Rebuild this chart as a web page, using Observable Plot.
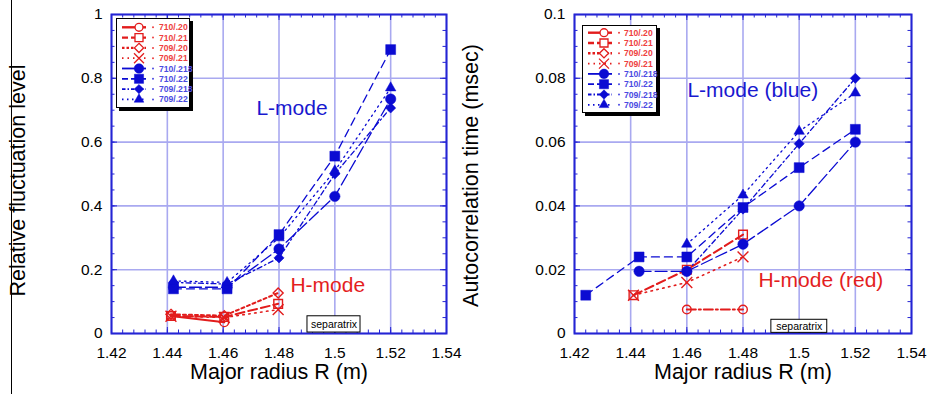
<!DOCTYPE html>
<html><head><meta charset="utf-8">
<script src="https://cdn.jsdelivr.net/npm/d3@7"></script>
<script src="https://cdn.jsdelivr.net/npm/@observablehq/plot@0.6"></script>
<style>
body{margin:0;background:#fff;font-family:"Liberation Sans",Arial,sans-serif;}
#wrap{position:relative;width:930px;height:394px;overflow:hidden;background:#fff;}
.panel{position:absolute;top:0;}
.legend{position:absolute;box-sizing:border-box;background:#fff;border:1.5px solid #000;box-shadow:3px 3px 0 #000;}
.legend svg{position:absolute;left:-1.5px;top:-1.5px;overflow:visible;}
.vline{position:absolute;left:11px;top:0;width:1.2px;height:394px;background:#000;}
</style></head><body><div id="wrap"><div class="vline"></div></div>
<script>
// ---------- data ----------
const seriesNames = ["710/.20","710/.21","709/.20","709/.21","710/.218","710/.22","709/.218","709/.22"];
const xTickValues = [1.42,1.44,1.46,1.48,1.5,1.52,1.54];
const fluctTickValues = [0,0.2,0.4,0.6,0.8,1];
const autoTickValues = [0,0.02,0.04,0.06,0.08,0.1];

// Left panel: relative fluctuation level
const fluctR_H = [1.4413, 1.4604, 1.4797];
const fluct_710_20 = [0.055, 0.035, null];
const fluct_710_21 = [0.055, 0.052, 0.093];
const fluct_709_20 = [0.060, 0.056, 0.127];
const fluct_709_21 = [0.054, 0.050, 0.075];
const fluctR_L = [1.4422, 1.4614, 1.48, 1.5, 1.52];
const fluct_710_218 = [0.145, 0.145, 0.265, 0.43, 0.735];
const fluct_710_22  = [0.140, 0.140, 0.310, 0.556, 0.89];
const fluct_709_218 = [0.160, 0.155, 0.237, 0.50, 0.707];
const fluct_709_22  = [0.165, 0.160, 0.300, 0.51, 0.77];

// Right panel: autocorrelation time (msec)
const autoR_H = [1.441, 1.46, 1.48];
const auto_710_20 = [null, 0.0075, 0.0075];
const auto_710_21 = [0.012, 0.020, 0.031];
const auto_709_20 = [null, null, null];
const auto_709_21 = [0.012, 0.016, 0.024];
const autoR_L = [1.424, 1.443, 1.46, 1.48, 1.5, 1.52];
const auto_710_218 = [null, 0.0195, 0.0195, 0.028, 0.040, 0.060];
const auto_710_22  = [0.012, 0.024, 0.024, 0.0395, 0.052, 0.064];
const auto_709_218 = [null, null, 0.0195, 0.039, 0.0595, 0.080];
const auto_709_22  = [null, null, 0.028, 0.0434, 0.0634, 0.0754];

// annotations
const fluctNotes = [{text:"L-mode", x:1.4719, y:0.705, mode:"L"}, {text:"H-mode", x:1.4841, y:0.150, mode:"H"}];
const autoNotes = [{text:"L-mode (blue)", x:1.4602, y:0.0762, mode:"L"}, {text:"H-mode (red)", x:1.4855, y:0.0166, mode:"H"}];
const fluctSeparatrix = [{x1:1.4902, x2:1.5092, y1:0.003, y2:0.054}];
const autoSeparatrix = [{x1:1.4901, x2:1.5100, y1:0.0002, y2:0.0043}];

// ---------- styles ----------
const RED = "#e21c1c", BLUE = "#0b0bd2", GRID = "#a9a9f0", AXIS = "#2424d4";
const style = {
  "710/.20":  {c:RED,  sym:"circle",   r:4.3, fill:false, dash:null,        lDash:null,          w:2,   lw:2.4},
  "710/.21":  {c:RED,  sym:"square",   r:4.9, fill:false, dash:"9,4",       lDash:"6,3",         w:2,   lw:2.4},
  "709/.20":  {c:RED,  sym:"diamond2", r:4.5, fill:false, dash:"3,3",       lDash:"2.5,2",       w:2,   lw:2.4},
  "709/.21":  {c:RED,  sym:"times",    r:5.0, fill:false, dash:"1.5,4.5",   lDash:"1.5,4",       w:1.6, lw:1.8},
  "710/.218": {c:BLUE, sym:"circle",   r:5.2, fill:true,  dash:"12,4",      lDash:null,          w:1.3, lw:1.8},
  "710/.22":  {c:BLUE, sym:"square",   r:5.6, fill:true,  dash:"8,5",       lDash:"6,3",         w:1.3, lw:1.8},
  "709/.218": {c:BLUE, sym:"diamond2", r:4.6, fill:true,  dash:"5,3,1.5,3", lDash:"3.5,2,1.5,2", w:1.3, lw:1.8},
  "709/.22":  {c:BLUE, sym:"triangle", r:3.9, fill:true,  dash:"1.5,4",     lDash:"1.5,3.5",     w:1.3, lw:1.8}
};
const autoDashOverride = {"710/.20": "9,3,2,3"};
const d3sym = {circle:d3.symbolCircle, square:d3.symbolSquare, diamond2:d3.symbolDiamond2, times:d3.symbolTimes, triangle:d3.symbolTriangle};
const fmt = d => String(+d.toFixed(3));
const FONT = "Liberation Sans, Arial, sans-serif";

function buildRows(hX, hVals, lX, lVals) {
  const rows = [];
  seriesNames.forEach((name, i) => {
    const xs = i < 4 ? hX : lX;
    const vals = i < 4 ? hVals[i] : lVals[i - 4];
    xs.forEach((x, j) => { if (vals[j] != null) rows.push({series: name, x, y: vals[j]}); });
  });
  return rows;
}

function panel({rows, yDomain, yTicks, yMinor, yTitle, notes, sep, marginLeft, titleDx, titleDy, dashOverride = {}}) {
  const W = 465, H = 394, mt = 14, mb = 61, mr = 19;
  const fw = W - marginLeft - mr, fh = H - mt - mb;
  const xMinor = d3.range(0, 31).map(i => +(1.42 + i * 0.004).toFixed(4));
  const marks = [
    Plot.gridX(xTickValues, {stroke: GRID, strokeOpacity: 1, strokeWidth: 1.6}),
    Plot.gridY(yTicks, {stroke: GRID, strokeOpacity: 1, strokeWidth: 1.6}),
    Plot.ruleX(xMinor, {x: d => d, insetTop: fh - 3.5, stroke: AXIS}),
    Plot.ruleX(xMinor, {x: d => d, insetBottom: fh - 3.5, stroke: AXIS}),
    Plot.ruleX(xTickValues, {x: d => d, insetTop: fh - 6, stroke: AXIS}),
    Plot.ruleX(xTickValues, {x: d => d, insetBottom: fh - 6, stroke: AXIS}),
    Plot.ruleY(yMinor, {y: d => d, insetRight: fw - 3.5, stroke: AXIS}),
    Plot.ruleY(yMinor, {y: d => d, insetLeft: fw - 3.5, stroke: AXIS}),
    Plot.ruleY(yTicks, {y: d => d, insetRight: fw - 6, stroke: AXIS}),
    Plot.ruleY(yTicks, {y: d => d, insetLeft: fw - 6, stroke: AXIS}),
    Plot.frame({stroke: AXIS, strokeWidth: 2}),
    Plot.rect(sep, {x1: "x1", x2: "x2", y1: "y1", y2: "y2", fill: "#fff", stroke: "#000", strokeWidth: 1}),
    Plot.text(sep, {x: d => (d.x1 + d.x2) / 2, y: d => (d.y1 + d.y2) / 2, text: () => "separatrix", fontSize: 10.5, fill: "#000"})
  ];
  for (const name of seriesNames) {
    const s = style[name];
    const data = rows.filter(r => r.series === name);
    if (!data.length) continue;
    const dash = name in dashOverride ? dashOverride[name] : s.dash;
    marks.push(Plot.line(data, {x: "x", y: "y", stroke: s.c, strokeWidth: s.w, strokeDasharray: dash || undefined}));
  }
  for (const name of seriesNames) {
    const s = style[name];
    const data = rows.filter(r => r.series === name);
    if (!data.length) continue;
    marks.push(Plot.dot(data, {x: "x", y: "y", symbol: s.sym, r: s.r,
      fill: s.fill ? s.c : "none", stroke: s.c, strokeWidth: s.fill ? 0.5 : 1.4}));
  }
  for (const n of notes) {
    marks.push(Plot.text([n], {x: "x", y: "y", text: "text", textAnchor: "start", fontSize: 21,
      fill: n.mode === "L" ? "#1818cf" : "#e41e1e"}));
  }
  marks.push(
    Plot.axisX(xTickValues, {tickSize: 0, tickPadding: 13, tickFormat: fmt, fontSize: 15.5, label: null}),
    Plot.axisY(yTicks, {tickSize: 0, tickPadding: 9, tickFormat: fmt, fontSize: 15.5, label: null}),
    Plot.text(["Major radius R (m)"], {frameAnchor: "bottom", dy: 45, fontSize: 21.5, fill: "#000"}),
    Plot.text([yTitle], {frameAnchor: "left", textAnchor: "middle", rotate: -90, dx: titleDx, dy: titleDy, fontSize: 21.5, fill: "#000"})
  );
  return Plot.plot({
    width: W, height: H, marginLeft, marginRight: mr, marginTop: mt, marginBottom: mb,
    x: {domain: [1.42, 1.54], label: null},
    y: {domain: yDomain, label: null},
    style: {fontFamily: FONT, color: "#000", background: "transparent", overflow: "visible"},
    marks
  });
}

function legend(left, top, width, height, rowTop, lx0, lx1, mx, dx, tx) {
  const div = document.createElement("div");
  div.className = "legend";
  Object.assign(div.style, {left: left + "px", top: top + "px", width: width + "px", height: height + "px"});
  const svg = d3.select(div).append("svg").attr("width", width).attr("height", height);
  seriesNames.forEach((name, i) => {
    const s = style[name];
    const y = rowTop + i * 10.3;
    const g = svg.append("g");
    g.append("line").attr("x1", lx0).attr("x2", lx1).attr("y1", y).attr("y2", y)
      .attr("stroke", s.c).attr("stroke-width", s.lw).attr("stroke-dasharray", s.lDash);
    g.append("path").attr("transform", `translate(${mx},${y})`)
      .attr("d", d3.symbol(d3sym[s.sym], Math.PI * s.r * s.r * 0.85)())
      .attr("fill", s.fill ? s.c : "#fff").attr("stroke", s.c).attr("stroke-width", s.fill ? 0.5 : 1.3);
    g.append("circle").attr("cx", dx).attr("cy", y).attr("r", 1).attr("fill", s.c === RED ? "#ee4040" : "#4a4ae2");
    g.append("text").attr("x", tx).attr("y", y).attr("dy", "0.36em").text(name)
      .attr("font-size", 8.6).attr("font-weight", "bold").attr("font-family", FONT)
      .attr("fill", s.c === RED ? "#ee4040" : "#4a4ae2");
  });
  document.getElementById("wrap").appendChild(div);
}

const wrap = document.getElementById("wrap");
const leftRows = buildRows(fluctR_H, [fluct_710_20, fluct_710_21, fluct_709_20, fluct_709_21],
  fluctR_L, [fluct_710_218, fluct_710_22, fluct_709_218, fluct_709_22]);
const rightRows = buildRows(autoR_H, [auto_710_20, auto_710_21, auto_709_20, auto_709_21],
  autoR_L, [auto_710_218, auto_710_22, auto_709_218, auto_709_22]);

const p1 = panel({rows: leftRows, yDomain: [0, 1], yTicks: fluctTickValues,
  yMinor: d3.range(0, 21).map(i => +(i * 0.05).toFixed(3)), yTitle: "Relative fluctuation level",
  notes: fluctNotes, sep: fluctSeparatrix, marginLeft: 111, titleDx: -93, titleDy: 6.5});
p1.classList.add("panel"); p1.style.left = "0px";
wrap.appendChild(p1);

const p2 = panel({rows: rightRows, yDomain: [0, 0.1], yTicks: autoTickValues,
  yMinor: d3.range(0, 21).map(i => +(i * 0.005).toFixed(4)), yTitle: "Autocorrelation time (msec)",
  notes: autoNotes, sep: autoSeparatrix, marginLeft: 109, titleDx: -103, titleDy: 1.5,
  dashOverride: autoDashOverride});
p2.classList.add("panel"); p2.style.left = "465px";
wrap.appendChild(p2);

legend(116, 18, 74, 90, 9.3, 6, 30, 23, 37, 43);
legend(582, 25, 75, 88, 7.7, 6, 30, 22, 37, 42);
</script>
</body></html>
